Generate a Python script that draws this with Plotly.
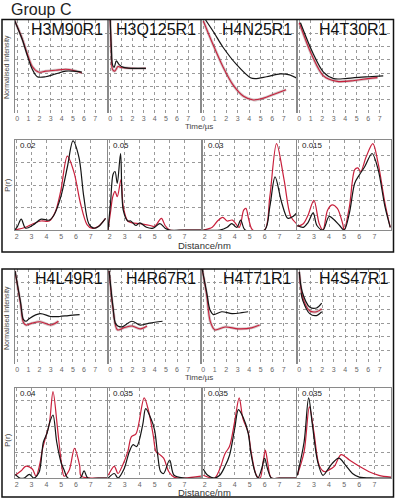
import plotly.graph_objects as go

W, H = 397, 500

# ---------------- data ----------------
time_titles = ["H3M90R1", "H3Q125R1", "H4N25R1", "H4T30R1",
               "H4L49R1", "H4R67R1", "H4T71R1", "H4S47R1"]
time_ticks = [0, 1, 2, 3, 4, 5, 6, 7]
dist_ticks = [2, 3, 4, 5, 6, 7]
dist_max_labels = ["0.02", "0.05", "0.03", "0.015", "0.04", "0.035", "0.035", "0.035"]
dist_max = [0.02, 0.05, 0.03, 0.015, 0.04, 0.035, 0.035, 0.035]

# time domain: black = simulated, red = fit (over data)
t1_black_t = [-0.25, 0.45, 0.9, 1.35, 1.8, 2.55, 3.45, 4.35, 5.0, 5.8]
t1_black_v = [1.0, 0.79, 0.62, 0.47, 0.39, 0.39, 0.42, 0.45, 0.45, 0.44]
t1_red_t = [-0.25, 0.45, 0.9, 1.35, 1.9, 2.55, 3.45, 4.35, 5.0, 5.8]
t1_red_v = [1.0, 0.80, 0.64, 0.50, 0.44, 0.45, 0.46, 0.47, 0.46, 0.43]

t2_black_t = [0.0, 0.1, 0.2, 0.35, 0.55, 0.8, 1.2, 2.0, 3.2]
t2_black_v = [1.0, 0.7, 0.52, 0.49, 0.56, 0.52, 0.49, 0.48, 0.48]
t2_red_t = [0.0, 0.1, 0.2, 0.4, 0.7, 1.0, 2.0, 3.2]
t2_red_v = [1.0, 0.65, 0.47, 0.45, 0.50, 0.49, 0.48, 0.48]

t3_black_t = [0.2, 0.95, 1.7, 2.9, 4.1, 4.5, 5.5, 6.7, 7.5, 8.2]
t3_black_v = [1.0, 0.86, 0.71, 0.52, 0.38, 0.37, 0.39, 0.42, 0.41, 0.37]
t3_red_t = [0.0, 0.8, 1.7, 2.6, 3.5, 4.35, 5.25, 6.1, 7.2]
t3_red_v = [0.99, 0.75, 0.50, 0.30, 0.18, 0.14, 0.16, 0.20, 0.25]

t4_black_t = [0.1, 1.2, 2.1, 3.0, 4.0, 4.8, 6.0, 7.3]
t4_black_v = [0.97, 0.64, 0.44, 0.37, 0.37, 0.38, 0.39, 0.40]
t4_red_t = [0.0, 1.1, 2.1, 3.3, 4.8, 6.0, 6.8]
t4_red_v = [0.97, 0.62, 0.40, 0.34, 0.35, 0.37, 0.38]

t5_black_t = [-0.2, 0.3, 0.55, 0.8, 1.1, 2.05, 3.0, 3.8, 4.6, 5.6]
t5_black_v = [0.98, 0.65, 0.47, 0.45, 0.48, 0.53, 0.50, 0.50, 0.51, 0.52]
t5_red_t = [-0.2, 0.3, 0.55, 0.8, 1.35, 2.05, 3.0, 3.7]
t5_red_v = [0.98, 0.63, 0.44, 0.41, 0.43, 0.445, 0.41, 0.45]

t6_black_t = [-0.1, 0.25, 0.5, 1.0, 1.95, 2.7, 3.55, 4.7]
t6_black_v = [0.98, 0.60, 0.42, 0.39, 0.45, 0.41, 0.43, 0.45]
t6_red_t = [-0.1, 0.25, 0.64, 1.2, 1.95, 2.7, 3.3]
t6_red_v = [0.98, 0.58, 0.36, 0.38, 0.40, 0.37, 0.40]

t7_black_t = [-0.1, 0.3, 0.58, 0.88, 1.6, 2.5, 3.35, 3.9]
t7_black_v = [1.0, 0.75, 0.57, 0.52, 0.55, 0.53, 0.54, 0.55]
t7_red_t = [-0.1, 0.3, 0.6, 1.0, 1.9, 3.05, 4.2, 4.9]
t7_red_v = [1.0, 0.72, 0.45, 0.36, 0.39, 0.37, 0.38, 0.41]

t8_black_t = [0.0, 0.25, 0.9, 1.5, 1.95]
t8_black_v = [0.97, 0.76, 0.60, 0.59, 0.64]
t8_black2_t = [0.15, 0.3, 0.9, 1.5, 1.95]
t8_black2_v = [0.75, 0.67, 0.53, 0.51, 0.55]
t8_red_t = [0.0, 0.28, 0.9, 1.5, 1.95]
t8_red_v = [0.97, 0.71, 0.56, 0.55, 0.58]

# distance distributions P(r)
d1_black_r = [1.87, 2.05, 2.3, 2.6, 3.1, 3.65, 4.2, 4.53, 4.98, 5.42, 5.8, 6.2, 6.53, 6.87, 7.2, 7.53, 8.0]
d1_black_p = [0, 0.0008, 0.0024, 0.0004, 0.0011, 0.0024, 0.0022, 0.0034, 0.0074, 0.014, 0.0198, 0.0162, 0.0074, 0.0014, 0.0004, 0.0008, 0.0026]
d1_red_r = [1.87, 2.6, 3.1, 3.65, 4.2, 4.6, 4.98, 5.42, 5.87, 6.3, 6.75, 7.07, 7.5, 8.0]
d1_red_p = [0, 0.0006, 0.0014, 0.002, 0.002, 0.004, 0.0088, 0.0164, 0.0128, 0.006, 0.0012, 0.0004, 0.0008, 0.0026]

d2_black_r = [1.88, 2.05, 2.22, 2.35, 2.5, 2.72, 2.9, 3.2, 3.4, 3.75, 4.0, 4.45, 4.9, 5.35, 5.7, 6.0, 7.0, 8.1]
d2_black_p = [0, 0.015, 0.031, 0.0325, 0.026, 0.0425, 0.011, 0.005, 0.005, 0.0025, 0.004, 0.0015, 0.001, 0.0035, 0.001, 0, 0, 0]
d2_red_r = [1.88, 2.05, 2.2, 2.35, 2.5, 2.75, 2.9, 3.2, 3.5, 4.0, 4.7, 5.0, 5.45, 5.7, 6.0, 7.0, 8.1]
d2_red_p = [0, 0.01, 0.0185, 0.0215, 0.0185, 0.028, 0.013, 0.005, 0.004, 0.0035, 0.0025, 0.002, 0.0065, 0.0025, 0, 0, 0]

d3_black_r = [1.9, 3.0, 3.5, 3.8, 4.15, 4.4, 4.7, 6.0, 6.35, 6.7, 7.15, 7.55, 7.9, 8.2]
d3_black_p = [0, 0, 0.0009, 0.0021, 0.0009, 0.0033, 0, 0, 0.0078, 0.0177, 0.009, 0.0039, 0.0045, 0.006]
d3_red_r = [1.9, 2.5, 2.85, 3.2, 3.5, 3.85, 4.3, 4.6, 4.75, 4.95, 5.2, 6.0, 6.35, 6.8, 7.3, 7.75, 8.2]
d3_red_p = [0, 0.0009, 0.003, 0.0042, 0.003, 0.0033, 0.0009, 0.0066, 0.0072, 0.0033, 0, 0, 0.0111, 0.0288, 0.0168, 0.0045, 0.0018]

d4_black_r = [1.9, 2.3, 2.6, 2.95, 3.2, 3.6, 4.0, 4.3, 4.7, 5.0, 5.35, 5.7, 6.0, 6.35, 6.85, 7.25, 7.7, 8.05]
d4_black_p = [0.00075, 0.00045, 0.0012, 0.00285, 0.00075, 0, 0.00225, 0.0018, 0.00075, 0, 0.00285, 0.0078, 0.00915, 0.0105, 0.01275, 0.01005, 0.0039, 0.00045]
d4_red_r = [1.9, 2.3, 2.6, 3.0, 3.35, 3.6, 3.9, 4.2, 4.55, 4.9, 5.0, 5.35, 5.7, 5.9, 6.1, 6.45, 6.9, 7.25, 7.7, 8.05]
d4_red_p = [0.0006, 0.00105, 0.0024, 0.00495, 0.00105, 0, 0.0033, 0.0042, 0.0036, 0.00105, 0, 0.0039, 0.01005, 0.01035, 0.00975, 0.01215, 0.0144, 0.0111, 0.0045, 0.00045]

d5_black_r = [1.9, 2.2, 2.5, 2.85, 3.15, 3.5, 3.8, 4.05, 4.25, 4.45, 4.7, 5.0, 5.2, 5.45, 6.3, 6.55, 6.8, 7.5, 8.1]
d5_black_p = [0.0016, 0, 0, 0.0016, 0, 0.0024, 0.016, 0.02, 0.0252, 0.028, 0.016, 0.0068, 0.0036, 0, 0, 0.0032, 0, 0, 0]
d5_red_r = [1.9, 2.3, 2.6, 3.05, 3.3, 3.55, 3.75, 4.0, 4.2, 4.45, 4.75, 5.0, 5.2, 5.55, 5.9, 6.25, 6.35, 7.0, 8.1]
d5_red_p = [0.0012, 0.0032, 0.0052, 0.004, 0.0008, 0.006, 0.0132, 0.0192, 0.024, 0.0384, 0.0224, 0.0076, 0.0008, 0.0036, 0.0132, 0.0056, 0.0008, 0, 0]

d6_black_r = [1.9, 2.3, 2.55, 2.95, 3.3, 3.55, 3.8, 4.2, 4.4, 4.75, 5.0, 5.2, 5.4, 5.6, 6.0, 6.3, 7.0, 8.1]
d6_black_p = [0, 0.00175, 0, 0.0035, 0.01015, 0.01295, 0.01225, 0.02065, 0.02695, 0.0231, 0.01855, 0.0091, 0.00245, 0.00175, 0.007, 0.00105, 0, 0]
d6_red_r = [1.9, 2.3, 2.55, 2.85, 3.2, 3.45, 3.75, 4.3, 4.6, 4.9, 5.1, 5.35, 5.6, 5.95, 6.3, 7.0, 8.1]
d6_red_p = [0.00105, 0.00455, 0.00175, 0.0049, 0.01015, 0.0161, 0.01715, 0.03115, 0.0259, 0.0168, 0.01015, 0.0091, 0.0077, 0.00245, 0.00035, 0, 0.0007]

d7_black_r = [1.9, 2.2, 2.65, 3.0, 3.35, 3.65, 4.0, 4.25, 4.55, 4.9, 5.1, 5.35, 5.55, 5.8, 6.0, 6.2, 6.45, 7.0, 8.1]
d7_black_p = [0.0035, 0.00105, 0, 0.00105, 0.00455, 0.00875, 0.01925, 0.0266, 0.0238, 0.0175, 0.0091, 0.00245, 0, 0.0035, 0.0077, 0.0035, 0, 0, 0]
d7_red_r = [1.9, 2.65, 3.0, 3.35, 3.65, 4.0, 4.3, 4.55, 4.9, 5.1, 5.45, 5.7, 5.9, 6.05, 6.2, 6.45, 7.0, 8.1]
d7_red_p = [0.00105, 0, 0.0035, 0.00945, 0.01225, 0.02205, 0.03115, 0.0231, 0.01785, 0.01015, 0.00105, 0, 0.0063, 0.01085, 0.0063, 0, 0, 0]

d8_black_r = [1.9, 2.35, 2.65, 2.9, 3.25, 3.6, 3.9, 4.2, 4.65, 5.1, 5.55, 6.0, 7.0, 8.1]
d8_black_p = [0.00105, 0.014, 0.03115, 0.02065, 0.0063, 0.00105, 0.00315, 0.0056, 0.0077, 0.0049, 0.00175, 0.00035, 0, 0]
d8_red_r = [1.9, 2.35, 2.7, 3.0, 3.35, 3.7, 4.0, 4.35, 4.8, 5.35, 6.0, 6.65, 7.3, 8.1]
d8_red_p = [0.00105, 0.01015, 0.02765, 0.01785, 0.0049, 0.00245, 0.00315, 0.00455, 0.0091, 0.007, 0.00455, 0.00245, 0.00105, 0.00035]

time_black = [(t1_black_t, t1_black_v), (t2_black_t, t2_black_v), (t3_black_t, t3_black_v), (t4_black_t, t4_black_v),
              (t5_black_t, t5_black_v), (t6_black_t, t6_black_v), (t7_black_t, t7_black_v), (t8_black_t, t8_black_v)]
time_red = [(t1_red_t, t1_red_v), (t2_red_t, t2_red_v), (t3_red_t, t3_red_v), (t4_red_t, t4_red_v),
            (t5_red_t, t5_red_v), (t6_red_t, t6_red_v), (t7_red_t, t7_red_v), (t8_red_t, t8_red_v)]
dist_black = [(d1_black_r, d1_black_p), (d2_black_r, d2_black_p), (d3_black_r, d3_black_p), (d4_black_r, d4_black_p),
              (d5_black_r, d5_black_p), (d6_black_r, d6_black_p), (d7_black_r, d7_black_p), (d8_black_r, d8_black_p)]
dist_red = [(d1_red_r, d1_red_p), (d2_red_r, d2_red_p), (d3_red_r, d3_red_p), (d4_red_r, d4_red_p),
            (d5_red_r, d5_red_p), (d6_red_r, d6_red_p), (d7_red_r, d7_red_p), (d8_red_r, d8_red_p)]

# ---------------- layout helpers ----------------
def px(x):
    return x / W


def py(y):
    return 1 - y / H


RED = "#c8203c"
BLACK = "#151515"
DATA = "rgba(150,120,125,0.45)"
GRID = "#9a9a9a"
FRAME = "#8a8a8a"
FONT = "Liberation Sans, Arial, sans-serif"

time_x = [(15, 108), (108, 201), (201, 297), (297, 393)]
dist_x = [(15, 107), (108, 201), (203, 296), (297, 391)]
time_rows = [(20, 113), (269, 364)]
dist_rows = [(140, 230), (388, 478)]

fig = go.Figure()
annotations = []
layout = {}

def add_line(i, xs, ys, color, width):
    fig.add_trace(go.Scatter(x=xs, y=ys, mode="lines",
                             line=dict(color=color, width=width, shape="spline", smoothing=0.9),
                             xaxis=f"x{i}", yaxis=f"y{i}", showlegend=False, hoverinfo="skip"))


def label(x, y, text, size, color, xanchor="center", angle=0):
    annotations.append(dict(x=px(x), y=py(y), xref="paper", yref="paper", text=text, showarrow=False,
                            xanchor=xanchor, yanchor="middle", textangle=angle,
                            font=dict(size=size, color=color, family=FONT)))


idx = 0
for panel in range(2):
    # time-domain plots
    for k in range(4):
        idx += 1
        n = panel * 4 + k
        x0, x1 = time_x[k]
        y0, y1 = time_rows[panel]
        layout[f"xaxis{idx}"] = dict(domain=[px(x0), px(x1)], anchor=f"y{idx}", range=[-0.2, 8.15],
                                     tickvals=time_ticks, ticktext=[str(v) for v in time_ticks],
                                     tickfont=dict(size=7, color="#666", family=FONT), ticks="",
                                     showgrid=True, gridcolor=GRID, griddash="dot", gridwidth=0.8,
                                     zeroline=False, showline=False)
        layout[f"yaxis{idx}"] = dict(domain=[py(y1), py(y0)], anchor=f"x{idx}", range=[0, 1],
                                     tickvals=[1/7, 2/7, 3/7, 4/7, 5/7, 6/7], showticklabels=False, ticks="",
                                     showgrid=True, gridcolor=GRID, griddash="dot", gridwidth=0.8,
                                     zeroline=False, showline=True, mirror=True, linecolor=FRAME, linewidth=1)
        bt, bv = time_black[n]
        rt, rv = time_red[n]
        add_line(idx, rt, rv, DATA, 2.8)
        add_line(idx, rt, rv, RED, 1.1)
        add_line(idx, bt, bv, BLACK, 1.2)
        if n == 7:
            add_line(idx, t8_black2_t, t8_black2_v, BLACK, 1.2)
        label(x1 - 3, y0 + 9.5, time_titles[n], 16, "#111", xanchor="right")
    # distance plots
    for k in range(4):
        idx += 1
        n = panel * 4 + k
        x0, x1 = dist_x[k]
        y0, y1 = dist_rows[panel]
        ymax = dist_max[n]
        levels = [0.25, 0.5, 0.75] if (panel == 0 and k < 2) else (
            [1/6, 2/6, 3/6, 4/6, 5/6] if panel == 0 else [1/7, 2/7, 4/7, 6/7])
        layout[f"xaxis{idx}"] = dict(domain=[px(x0), px(x1)], anchor=f"y{idx}", range=[1.88, 8.1],
                                     tickvals=dist_ticks, ticktext=[str(v) for v in dist_ticks],
                                     tickfont=dict(size=7, color="#666", family=FONT), ticks="",
                                     showgrid=True, gridcolor=GRID, griddash="dot", gridwidth=0.8,
                                     zeroline=False, showline=True, mirror=True, linecolor=FRAME, linewidth=1)
        layout[f"yaxis{idx}"] = dict(domain=[py(y1), py(y0)], anchor=f"x{idx}", range=[0, ymax],
                                     tickvals=[l * ymax for l in levels], showticklabels=False, ticks="",
                                     showgrid=True, gridcolor=GRID, griddash="dot", gridwidth=0.8,
                                     zeroline=False, showline=True, mirror=True, linecolor=FRAME, linewidth=1)
        br, bp = dist_black[n]
        rr, rp = dist_red[n]
        add_line(idx, rr, rp, RED, 1.2)
        add_line(idx, br, bp, BLACK, 1.2)
        label(x0 + 3, y0 + 5, dist_max_labels[n], 8, "#222", xanchor="left")

# axis titles / panel labels
for (ni_y, pr_y, t_y, d_y) in [(67, 185, 126, 245), (318, 440, 377, 492)]:
    label(7, ni_y, "Normalised Intensity", 7, "#444", angle=-90)
    label(7, pr_y, "P(r)", 8, "#444", angle=-90)
    label(199, t_y, "Time/µs", 8, "#444")
    label(205, d_y, "Distance/nm", 9.5, "#333")

label(9, 9, "Group C", 16, "#222", xanchor="left")

shapes = [
    dict(type="rect", xref="paper", yref="paper", x0=px(2), x1=px(393.5), y0=py(252), y1=py(19.5),
         line=dict(color="#111", width=1.5)),
    dict(type="rect", xref="paper", yref="paper", x0=px(2), x1=px(393.5), y0=py(497), y1=py(269),
         line=dict(color="#111", width=1.5)),
]

fig.update_layout(width=W, height=H, margin=dict(l=0, r=0, t=0, b=0),
                  paper_bgcolor="white", plot_bgcolor="white",
                  annotations=annotations, shapes=shapes, **layout)

fig.write_html("out.html", config={"displayModeBar": False},
               post_script="document.body.style.margin='0';document.body.style.padding='0';"
                           "document.body.style.overflow='hidden';")
